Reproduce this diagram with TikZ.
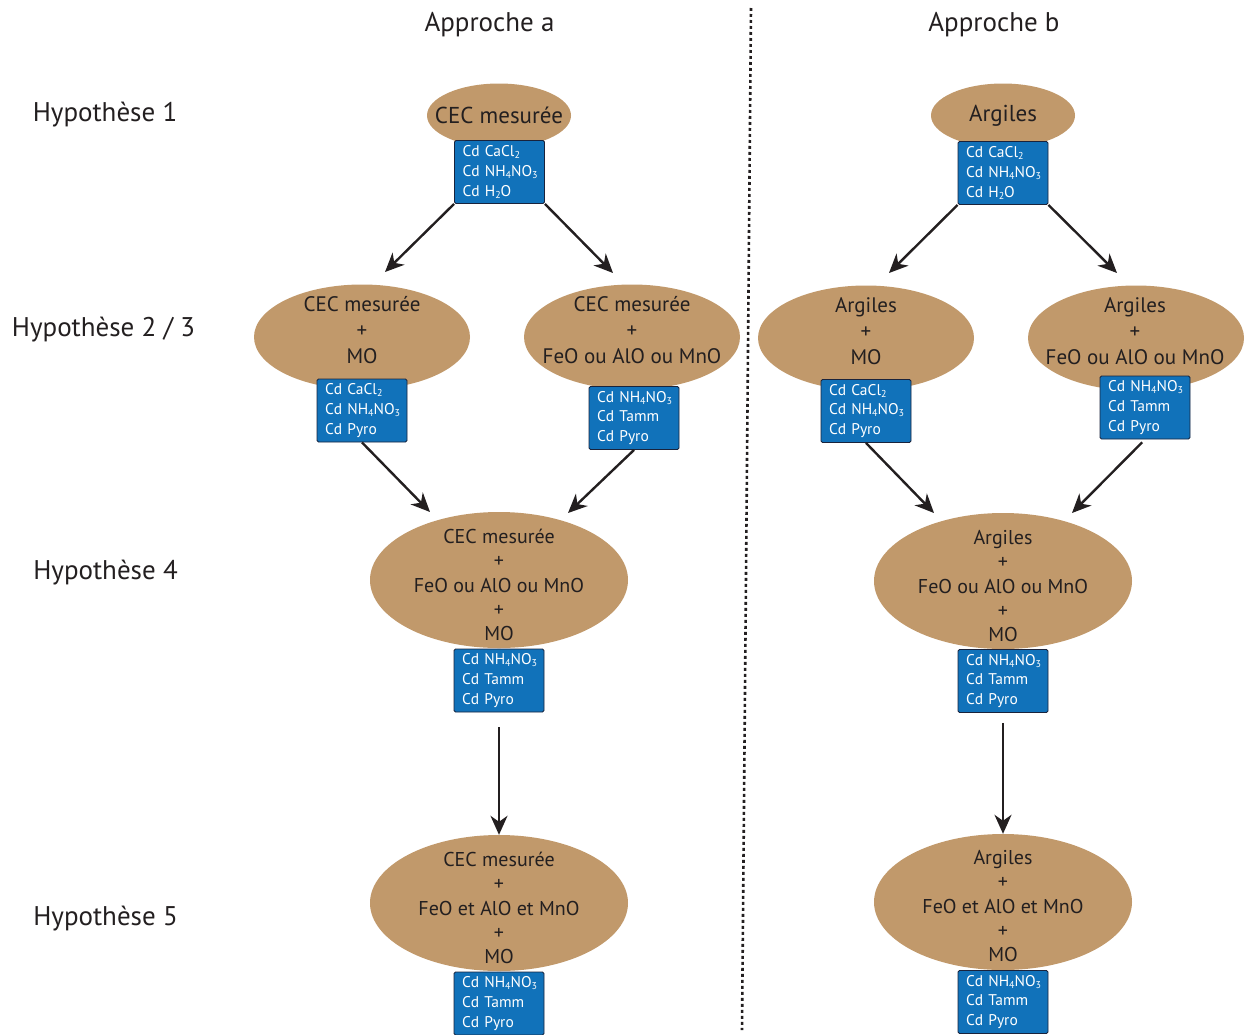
\documentclass[tikz,border=0pt]{standalone}
\usepackage{fontspec}
\setmainfont{PT Sans}
\usetikzlibrary{shapes.geometric,arrows.meta}
\definecolor{tanfill}{RGB}{193,153,107}
\definecolor{boxblue}{RGB}{17,114,186}
\definecolor{boxedge}{RGB}{25,35,60}
\definecolor{ink}{RGB}{35,31,32}
\newcommand{\sbs}[1]{\raisebox{-0.25ex}{\fontsize{10}{10}\selectfont #1}}
\begin{document}
\begin{tikzpicture}[x=1pt,y=-1pt,
 ell/.style={ellipse, fill=tanfill, inner sep=0pt},
 ellA/.style={ell, minimum width=144, minimum height=64},
 ellB/.style={ell, minimum width=216, minimum height=105},
 ellC/.style={ell, minimum width=258, minimum height=136},
 txtA/.style={text=ink, align=center, inner sep=0pt, font=\fontsize{23}{26}\selectfont},
 txtB/.style={text=ink, align=center, inner sep=0pt, font=\fontsize{21}{26}\selectfont},
 txtC/.style={text=ink, align=center, inner sep=0pt, font=\fontsize{20}{24.3}\selectfont},
 cdbox/.style={rectangle, fill=boxblue, draw=boxedge, line width=0.9pt, rounded corners=1.5pt, text=white, align=left, font=\fontsize{15.5}{19.8}\selectfont, minimum height=63, text width=82, inner xsep=4, inner ysep=0},
 arr/.style={-{Stealth[length=19,width=17,inset=6]}, line width=2.4pt, draw=ink},
 head/.style={font=\fontsize{27}{30}\selectfont, text=ink},
 hyp/.style={font=\fontsize{27}{30}\selectfont, text=ink}]
\useasboundingbox (0,0) rectangle (1245,1034);

% headers
\node[head] (hA) at (489.5,25) {Approche a};
\node[head] (hB) at (994,25) {Approche b};
\coordinate (dtop) at (751,8);
\coordinate (dbot) at (742,1030);
\draw[ink, line width=2.6pt, dash pattern=on 2.8pt off 3.2pt] (dtop) -- (dbot);

% row labels
\node[hyp] (h1) at (105,115) {Hypothèse 1};
\node[hyp] (h23) at (103.5,330) {Hypothèse 2 / 3};
\node[hyp] (h4) at (105.5,573) {Hypothèse 4};
\node[hyp] (h5) at (105.5,919) {Hypothèse 5};

% ---------- Approche a ----------
\node[ellA] (a1) at (499,115.5) {};
\node[txtA] (a1t) at (a1.center) {CEC mesurée};
\node[cdbox] (a1b) at (499.5,172) {\hspace*{4pt}Cd CaCl\sbs{2}\\\hspace*{4pt}Cd NH\sbs{4}NO\sbs{3}\\\hspace*{4pt}Cd H\sbs{2}O};

\node[ellB] (a2L) at (362,337) {};
\node[txtB] (a2Lt) at (362,330) {CEC mesurée\\+\\MO};
\node[cdbox] (a2Lb) at (362,410.5) {\hspace*{4pt}Cd CaCl\sbs{2}\\\hspace*{4pt}Cd NH\sbs{4}NO\sbs{3}\\\hspace*{4pt}Cd Pyro};

\node[ellB] (a2R) at (632,337) {};
\node[txtB] (a2Rt) at (632,330) {CEC mesurée\\+\\FeO ou AlO ou MnO};
\node[cdbox] (a2Rb) at (634,418) {\hspace*{4pt}Cd NH\sbs{4}NO\sbs{3}\\\hspace*{4pt}Cd Tamm\\\hspace*{4pt}Cd Pyro};

\node[ellC] (a3) at (499,580) {};
\node[txtC] (a3t) at (499,585) {CEC mesurée\\+\\FeO ou AlO ou MnO\\+\\MO};
\node[cdbox] (a3b) at (499,680.5) {\hspace*{4pt}Cd NH\sbs{4}NO\sbs{3}\\\hspace*{4pt}Cd Tamm\\\hspace*{4pt}Cd Pyro};

\node[ellC] (a4) at (499,903) {};
\node[txtC] (a4t) at (499,908) {CEC mesurée\\+\\FeO et AlO et MnO\\+\\MO};
\node[cdbox] (a4b) at (499,1003.5) {\hspace*{4pt}Cd NH\sbs{4}NO\sbs{3}\\\hspace*{4pt}Cd Tamm\\\hspace*{4pt}Cd Pyro};

\coordinate (a1Le) at (385,272);
\coordinate (a1Re) at (613,273);
\coordinate (a2Le) at (430,512);
\coordinate (a2Re) at (568,513);
\draw[arr] (a1b.south west) -- (a1Le);
\draw[arr] (a1b.south east) -- (a1Re);
\draw[arr] (a2Lb.south) -- (a2Le);
\draw[arr] (a2Rb.south) -- (a2Re);
\draw[arr, shorten <=15pt] (a3b.south) -- (a4.north);

% ---------- Approche b ----------
\node[ellA] (b1) at (1003,115.5) {};
\node[txtA] (b1t) at (b1.center) {Argiles};
\node[cdbox] (b1b) at (1003,173) {\hspace*{4pt}Cd CaCl\sbs{2}\\\hspace*{4pt}Cd NH\sbs{4}NO\sbs{3}\\\hspace*{4pt}Cd H\sbs{2}O};

\node[ellB] (b2L) at (866,338) {};
\node[txtB] (b2Lt) at (866,331) {Argiles\\+\\MO};
\node[cdbox] (b2Lb) at (866,411) {\hspace*{4pt}Cd CaCl\sbs{2}\\\hspace*{4pt}Cd NH\sbs{4}NO\sbs{3}\\\hspace*{4pt}Cd Pyro};

\node[ellB] (b2R) at (1136,338) {};
\node[txtB] (b2Rt) at (1135,331) {Argiles\\+\\FeO ou AlO ou MnO};
\node[cdbox] (b2Rb) at (1145,407.5) {\hspace*{4pt}Cd NH\sbs{4}NO\sbs{3}\\\hspace*{4pt}Cd Tamm\\\hspace*{4pt}Cd Pyro};

\node[ellC] (b3) at (1003,581) {};
\node[txtC] (b3t) at (1003,586) {Argiles\\+\\FeO ou AlO ou MnO\\+\\MO};
\node[cdbox] (b3b) at (1003,681) {\hspace*{4pt}Cd NH\sbs{4}NO\sbs{3}\\\hspace*{4pt}Cd Tamm\\\hspace*{4pt}Cd Pyro};

\node[ellC] (b4) at (1003,902) {};
\node[txtC] (b4t) at (1003,906) {Argiles\\+\\FeO et AlO et MnO\\+\\MO};
\node[cdbox] (b4b) at (1003,1002) {\hspace*{4pt}Cd NH\sbs{4}NO\sbs{3}\\\hspace*{4pt}Cd Tamm\\\hspace*{4pt}Cd Pyro};

\coordinate (b1Le) at (889,273);
\coordinate (b1Re) at (1117,273);
\coordinate (b2Le) at (934,513);
\coordinate (b2Re) at (1072,513);
\draw[arr] (b1b.south west) -- (b1Le);
\draw[arr] (b1b.south east) -- (b1Re);
\draw[arr] (b2Lb.south) -- (b2Le);
\draw[arr, shorten <=4pt] (b2Rb.south) -- (b2Re);
\draw[arr, shorten <=10pt] (b3b.south) -- (b4.north);
\end{tikzpicture}
\end{document}
